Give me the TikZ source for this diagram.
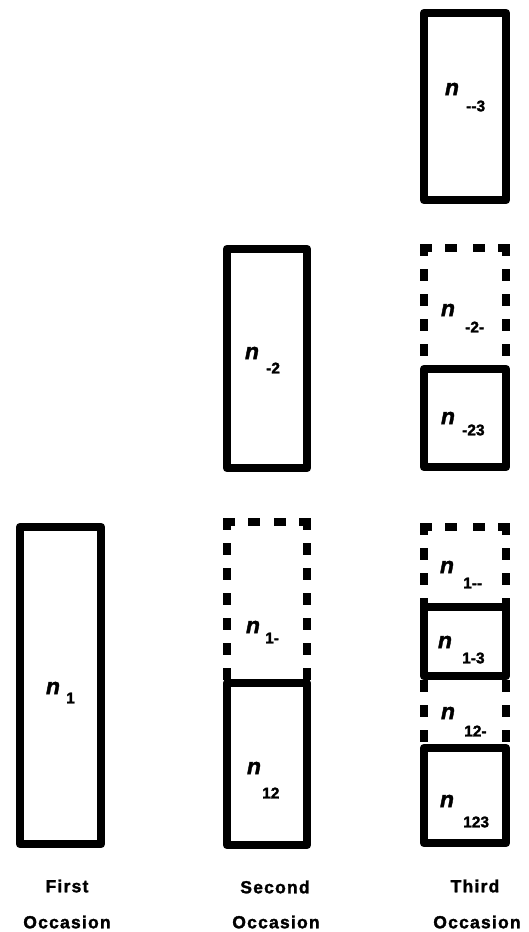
\documentclass[tikz,border=0pt]{standalone}
\usepackage{fontspec}
\setmainfont{Liberation Sans}[BoldFeatures={FakeBold=1.6}, BoldItalicFeatures={FakeBold=1.6}]
\newfontfamily\spacedfont{Liberation Sans}[LetterSpace=7, BoldFeatures={FakeBold=1.6}]
\begin{document}
\begin{tikzpicture}[x=1pt,y=-1pt,
  solidbox/.style={draw=black, line width=8.5pt, line join=round, inner sep=0pt, outer sep=0pt},
  openbox/.style={draw=none, inner sep=0pt, outer sep=0pt},
  dashedge/.style={line width=8.5pt, line cap=rect, dash pattern=on 3.5pt off 21.5pt},
  nlab/.style={font=\fontsize{23}{23}\selectfont\bfseries\itshape, inner sep=0pt},
  sublab/.style={font=\fontsize{15.5}{15.5}\selectfont\bfseries, inner sep=0pt, anchor=west},
  caplab/.style={font=\spacedfont\fontsize{17.5}{17.5}\selectfont\bfseries, inner sep=0pt}]
\useasboundingbox[fill=white] (0,0) rectangle (528,932);

% ---------- dashed (open) boxes ----------
\node[openbox, minimum width=80pt, minimum height=161pt] (d1m) at (267,602.5) {};
\node[openbox, minimum width=82pt, minimum height=121pt] (dm2m) at (465,308.5) {};
\node[openbox, minimum width=82pt, minimum height=80pt] (d1mm) at (465,567) {};
\node[openbox, minimum width=82pt, minimum height=72pt] (d12m) at (465,712) {};

\foreach \b in {d1m,dm2m,d1mm}{
  \draw[dashedge] (\b.north west) -- (\b.south west);
  \draw[dashedge] (\b.north east) -- (\b.south east);
  \draw[dashedge] (\b.north west) -- (\b.north);
  \draw[dashedge] (\b.north east) -- (\b.north);
}
\draw[dashedge, dash phase=17pt] (d12m.north west) -- (d12m.south west);
\draw[dashedge, dash phase=17pt] (d12m.north east) -- (d12m.south east);

% ---------- solid boxes ----------
\node[solidbox, minimum width=81pt, minimum height=317pt] (b1) at (60.5,685.5) {};
\node[solidbox, minimum width=80pt, minimum height=219pt] (bm2) at (267,358.5) {};
\node[solidbox, minimum width=80pt, minimum height=162pt] (b12) at (267,764) {};
\node[solidbox, minimum width=82pt, minimum height=187pt] (bmm3) at (465,106.5) {};
\node[solidbox, minimum width=82pt, minimum height=98pt] (bm23) at (465,418) {};
\node[solidbox, minimum width=82pt, minimum height=69pt] (b1m3) at (465,641.5) {};
\node[solidbox, minimum width=82pt, minimum height=95pt] (b123) at (465,795.5) {};

% ---------- labels ----------
\node[nlab] (n1) at (53,688) {n};
\node[sublab] (s1) at (66,698) {1};

\node[nlab] (nm2) at (252,353) {n};
\node[sublab] (sm2) at (266,368) {-2};

\node[nlab] (n1m) at (253,627) {n};
\node[sublab] (s1m) at (265,638) {1-};

\node[nlab] (n12) at (254,768) {n};
\node[sublab] (s12) at (262,793) {12};

\node[nlab] (nmm3) at (452,89) {n};
\node[sublab] (smm3) at (466,106) {-{}-3};

\node[nlab] (nm2m) at (448,310) {n};
\node[sublab] (sm2m) at (465,327) {-2-};

\node[nlab] (nm23) at (448,418) {n};
\node[sublab] (sm23) at (462,430) {-23};

\node[nlab] (n1mm) at (447,567) {n};
\node[sublab] (s1mm) at (463,583) {1-{}-};

\node[nlab] (n1m3) at (445,642) {n};
\node[sublab] (s1m3) at (462,658) {1-3};

\node[nlab] (n12m) at (448,713) {n};
\node[sublab] (s12m) at (464,731) {12-};

\node[nlab] (n123) at (447,801) {n};
\node[sublab] (s123) at (463,822) {123};

% ---------- captions ----------
\node[caplab] (c1a) at (67,886) {First};
\node[caplab] (c1b) at (67,922) {Occasion};
\node[caplab] (c2a) at (275,887) {Second};
\node[caplab] (c2b) at (276,922) {Occasion};
\node[caplab] (c3a) at (475,886) {Third};
\node[caplab] (c3b) at (477,922) {Occasion};
\end{tikzpicture}
\end{document}
